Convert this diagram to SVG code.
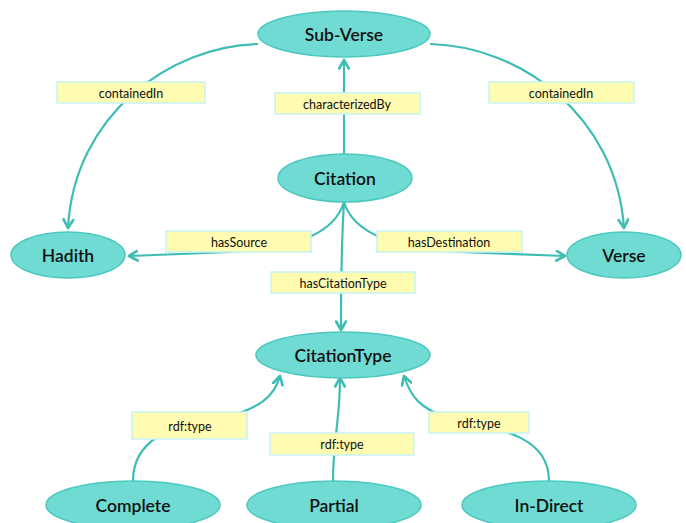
<svg xmlns="http://www.w3.org/2000/svg" width="686" height="523" viewBox="0 0 686 523">
  <defs>
    <marker id="arrow" viewBox="0 0 10 10" refX="8" refY="5" markerWidth="5.5" markerHeight="5.5" orient="auto" markerUnits="strokeWidth">
      <path d="M1,1 L8,5 L1,9" fill="none" stroke="#3fbdb4" stroke-width="2.2" stroke-linecap="round" stroke-linejoin="round"/>
    </marker>
    <style>
      .node ellipse { fill: #6fdbd2; stroke: #4cc8bf; stroke-width: 1.5; }
      .node text { font-family: Lato, "Open Sans", sans-serif; font-size: 17.5px; font-weight: 600; fill: #111; text-anchor: middle; dominant-baseline: central; }
      .edge { fill: none; stroke: #3fbdb4; stroke-width: 2.2; }
      .label rect { fill: #fffbb0; stroke: #c6f3f3; stroke-width: 1.5; }
      .label text { font-family: Lato, "Open Sans", sans-serif; font-size: 12.5px; fill: #111; text-anchor: middle; dominant-baseline: central; }
    </style>
  </defs>
  <rect width="686" height="523" fill="#ffffff"/>

  <!-- connectors -->
  <g id="connectors">
    <path class="edge" d="M258,44 C170,46 74,115 68,228" marker-end="url(#arrow)"/>
    <path class="edge" d="M430,44 C520,46 616,115 624,228" marker-end="url(#arrow)"/>
    <path class="edge" d="M344,154 L344,60" marker-end="url(#arrow)"/>
    <path class="edge" d="M344,202 C335,232 300,248 230,252 L129,256" marker-end="url(#arrow)"/>
    <path class="edge" d="M344,202 C353,232 390,248 460,252 L565,256" marker-end="url(#arrow)"/>
    <path class="edge" d="M344,202 C341,250 341,290 341,330" marker-end="url(#arrow)"/>
    <path class="edge" d="M133,481 C133,440 170,425 220,418 C260,410 275,395 280,376" marker-end="url(#arrow)"/>
    <path class="edge" d="M333,481 C333,440 340,420 340,378" marker-end="url(#arrow)"/>
    <path class="edge" d="M549,481 C549,440 510,430 450,418 C420,410 410,395 404,376" marker-end="url(#arrow)"/>
  </g>

  <!-- edge labels -->
  <g id="label-containedIn-left" class="label"><rect x="57" y="82" width="148" height="21"/><text x="131" y="93">containedIn</text></g>
  <g id="label-characterizedBy" class="label"><rect x="275" y="93" width="145" height="21"/><text x="347" y="104">characterizedBy</text></g>
  <g id="label-containedIn-right" class="label"><rect x="489" y="82" width="145" height="21"/><text x="561" y="93">containedIn</text></g>
  <g id="label-hasSource" class="label"><rect x="166" y="231" width="145" height="21"/><text x="239" y="242">hasSource</text></g>
  <g id="label-hasDestination" class="label"><rect x="377" y="231" width="145" height="21"/><text x="449" y="242">hasDestination</text></g>
  <g id="label-hasCitationType" class="label"><rect x="271" y="272" width="144" height="21"/><text x="343" y="283">hasCitationType</text></g>
  <g id="label-rdftype-left" class="label"><rect x="132" y="412" width="115" height="27"/><text x="190" y="426">rdf:type</text></g>
  <g id="label-rdftype-mid" class="label"><rect x="270" y="433" width="144" height="22"/><text x="342" y="444">rdf:type</text></g>
  <g id="label-rdftype-right" class="label"><rect x="429" y="412" width="100" height="21"/><text x="479" y="423">rdf:type</text></g>

  <!-- nodes -->
  <g id="sub-verse" class="node"><ellipse cx="344" cy="34" rx="86" ry="23"/><text x="344" y="34">Sub-Verse</text></g>
  <g id="citation" class="node"><ellipse cx="345" cy="178" rx="67" ry="24"/><text x="345" y="178">Citation</text></g>
  <g id="hadith" class="node"><ellipse cx="68" cy="255" rx="57" ry="23"/><text x="68" y="255">Hadith</text></g>
  <g id="verse" class="node"><ellipse cx="624" cy="255" rx="57" ry="23"/><text x="624" y="255">Verse</text></g>
  <g id="citation-type" class="node"><ellipse cx="343" cy="355" rx="87" ry="23"/><text x="343" y="355">CitationType</text></g>
  <g id="complete" class="node"><ellipse cx="133" cy="505" rx="87" ry="24"/><text x="133" y="505">Complete</text></g>
  <g id="partial" class="node"><ellipse cx="334" cy="505" rx="87" ry="24"/><text x="334" y="505">Partial</text></g>
  <g id="in-direct" class="node"><ellipse cx="549" cy="505" rx="87" ry="24"/><text x="549" y="505">In-Direct</text></g>
</svg>
